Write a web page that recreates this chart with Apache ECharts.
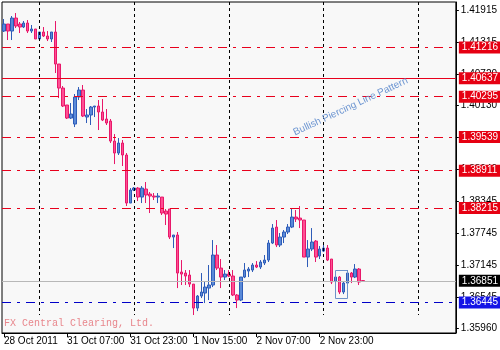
<!DOCTYPE html>
<html>
<head>
<meta charset="utf-8">
<script src="https://cdn.jsdelivr.net/npm/echarts@6/dist/echarts.min.js"></script>
<style>
html,body{margin:0;padding:0;background:#fff;}
#c{width:500px;height:350px;}
</style>
</head>
<body>
<div id="c"></div>
<script>
// ---- data ----
const opens = [1.41522,1.41653,1.41522,1.41765,1.41653,1.41597,1.41672,1.41522,1.41560,1.41373,
1.41504,1.41429,1.41373,1.41504,1.40905,1.40456,1.40139,1.39895,1.39783,1.40288,
1.40419,1.39914,1.39952,1.40101,1.40120,1.40008,1.39877,1.39839,1.39465,1.39241,
1.39428,1.39204,1.38306,1.38549,1.38586,1.38418,1.38568,1.38474,1.38437,1.38418,
1.38418,1.38156,1.38194,1.37670,1.37708,1.37016,1.36997,1.36960,1.36791,1.36342,
1.36567,1.36623,1.36716,1.36773,1.37334,1.37090,1.36922,1.36978,1.36941,1.36586,
1.36492,1.36922,1.37034,1.37053,1.37147,1.37109,1.37184,1.37240,1.37558,1.37857,
1.37521,1.37670,1.37764,1.37857,1.38044,1.38025,1.37988,1.37296,1.37446,1.37595,
1.37315,1.37408,1.37464,1.37259,1.36847,1.36922,1.36642,1.36810,1.36997,1.36922,
1.37072,1.36856];
const closes = [1.41653,1.41522,1.41765,1.41616,1.41597,1.41672,1.41522,1.41560,1.41373,1.41504,
1.41429,1.41373,1.41504,1.40905,1.40456,1.40120,1.39895,1.39970,1.40288,1.40419,
1.39933,1.39952,1.40101,1.40120,1.40008,1.39858,1.39802,1.39465,1.39241,1.39428,
1.39204,1.38306,1.38549,1.38586,1.38418,1.38586,1.38456,1.38437,1.38418,1.38437,
1.38119,1.38100,1.37670,1.37708,1.36997,1.36978,1.36941,1.36791,1.36342,1.36567,
1.36642,1.36735,1.36773,1.37334,1.37090,1.36922,1.36978,1.36941,1.36586,1.36492,
1.36922,1.37053,1.37072,1.37147,1.37109,1.37203,1.37240,1.37558,1.37838,1.37521,
1.37670,1.37764,1.37857,1.38044,1.38007,1.37988,1.37296,1.37446,1.37577,1.37296,
1.37446,1.37464,1.37240,1.36829,1.36922,1.36642,1.36810,1.36997,1.36922,1.37072,
1.36829,1.36851];
const lows = [1.41504,1.41354,1.41354,1.41578,1.41485,1.41578,1.41485,1.41485,1.41373,1.41354,
1.41410,1.41335,1.41317,1.40737,1.40269,1.40101,1.39877,1.39877,1.39727,1.40232,
1.39914,1.39802,1.39765,1.39914,1.39671,1.39839,1.39765,1.39428,1.39035,1.39204,
1.38998,1.38250,1.38306,1.38530,1.38343,1.38306,1.38306,1.38119,1.38362,1.38306,
1.38082,1.37895,1.37633,1.37464,1.36716,1.36773,1.36773,1.36735,1.36212,1.36286,
1.36529,1.36436,1.36492,1.36735,1.37053,1.36716,1.36866,1.36922,1.36567,1.36342,
1.36473,1.36903,1.36922,1.37016,1.37090,1.37072,1.37147,1.37203,1.37539,1.37483,
1.37483,1.37558,1.37726,1.37838,1.37951,1.37838,1.37296,1.37109,1.37408,1.37203,
1.37259,1.37390,1.37221,1.36791,1.36810,1.36604,1.36604,1.36791,1.36810,1.36903,
1.36773,1.36840];
const highs = [1.41747,1.41653,1.41803,1.41859,1.41691,1.41709,1.41728,1.41635,1.41560,1.41504,
1.41597,1.41522,1.41504,1.41709,1.40905,1.40494,1.40139,1.40176,1.40344,1.40475,
1.40513,1.40064,1.40120,1.40120,1.40232,1.40251,1.40064,1.39877,1.39596,1.39521,
1.39484,1.39241,1.38586,1.38605,1.38605,1.38624,1.38699,1.38512,1.38493,1.38493,
1.38418,1.38194,1.38194,1.37708,1.37764,1.37240,1.37053,1.37053,1.36791,1.36586,
1.36997,1.36829,1.37147,1.37614,1.37521,1.37259,1.37053,1.37053,1.37053,1.36604,
1.36922,1.37184,1.37109,1.37184,1.37221,1.37240,1.37334,1.37614,1.37913,1.37988,
1.37745,1.37801,1.37913,1.38212,1.38175,1.38250,1.37988,1.37614,1.37838,1.37614,
1.37502,1.37521,1.37521,1.37259,1.36941,1.36941,1.36847,1.37053,1.37016,1.37165,
1.37090,1.36862];

// hourly bars: [day label, first hour, last hour]
const sessions = [['28 Oct',15,23],['31 Oct',0,23],['1 Nov',0,23],['2 Nov',0,23],['3 Nov',0,23],['4 Nov',0,9]];
const firstLabel = '28 Oct 2011';
const xLabelEvery = 16;
const xLabelLast = 80;
const daySeparators = ['31 Oct 00:00','1 Nov 00:00','2 Nov 00:00','3 Nov 00:00','4 Nov 00:00'];

const yTickLabels = ['1.41915','1.41315','1.40720','1.40130','1.39530','1.38940','1.38345','1.37745','1.37145','1.36545','1.35960'];
const yMin = 1.35876, yMax = 1.42065;

const redDashLevels = [1.41216, 1.40295, 1.39539, 1.38911, 1.38215];
const redSolidLevel = 1.40637;
const bidLevel = 1.36851;
const blueLevel = 1.36445;
const separatorBottom = 1.36212;

const patternBox = {from: 84, to: 87, top: 1.37053, bottom: 1.36529};
const patternText = 'Bullish Piercing Line Pattern';
const patternTextAnchor = {bar: 74, price: 1.39530};
const watermark = 'FX Central Clearing, Ltd.';

// ---- build ----
const categories = [];
sessions.forEach(([d, h0, h1]) => {
  for (let h = h0; h <= h1; h++) categories.push(d + ' ' + (h < 10 ? '0' + h : h) + ':00');
});
const ohlc = opens.map((o, i) => [o, closes[i], lows[i], highs[i]]);

const FONT = 'Liberation Sans, Arial, sans-serif';
const RED = '#e8001c';
const dashDot = [9, 6, 3, 6];

function level(v, lineColor, type, bg) {
  return {yAxis: v, name: v.toFixed(5),
    lineStyle: {color: lineColor, type: type, width: 1},
    label: {backgroundColor: bg, color: '#fff'}};
}
const priceLines = [];
redDashLevels.forEach(v => priceLines.push(level(v, RED, dashDot, '#e60012')));
priceLines.push(level(redSolidLevel, RED, 'solid', '#e60012'));
priceLines.push(level(bidLevel, '#b8b8b8', 'solid', '#000000'));
priceLines.push(level(blueLevel, '#0000c8', dashDot, '#1414e6'));

const sepStyle = {color: '#000', type: [3, 3], width: 1};
const sepLines = daySeparators.map(c => [{coord: [c, yMax], lineStyle: sepStyle}, {coord: [c, separatorBottom]}]);

const chart = echarts.init(document.getElementById('c'), null, {renderer: 'canvas'});
chart.setOption({
  animation: false,
  backgroundColor: '#ffffff',
  grid: {left: 2, right: 40, top: 2, bottom: 17, show: true, borderColor: '#000', borderWidth: 1, backgroundColor: '#f8f8f8'},
  xAxis: {
    type: 'category', data: categories, boundaryGap: true,
    axisLine: {lineStyle: {color: '#000', width: 1}},
    axisTick: {show: true, alignWithLabel: true, length: 4, lineStyle: {color: '#000'},
      interval: (i) => i % xLabelEvery === 0 && i <= xLabelLast},
    axisLabel: {interval: (i) => i % xLabelEvery === 0 && i <= xLabelLast,
      formatter: (v, i) => i === 0 ? firstLabel : v,
      align: 'left', margin: 3, fontSize: 10, color: '#000', fontFamily: FONT},
    splitLine: {show: false}
  },
  yAxis: {
    type: 'value', position: 'right', min: yMin, max: yMax,
    axisLine: {show: true, lineStyle: {color: '#000', width: 1}},
    axisTick: {show: true, length: 3, lineStyle: {color: '#000'}, customValues: yTickLabels.map(Number)},
    axisLabel: {customValues: yTickLabels.map(Number), formatter: v => v.toFixed(5),
      margin: 5, fontSize: 10, color: '#000', fontFamily: FONT},
    splitLine: {show: false}
  },
  series: [{
    type: 'line', data: [], silent: true, z: 1,
    markLine: {
      silent: true, symbol: 'none', animation: false, precision: 5,
      lineStyle: sepStyle,
      label: {show: false},
      data: sepLines
    }
  }, {
    type: 'line', data: [], silent: true, z: 3,
    markLine: {
      silent: true, symbol: 'none', animation: false, precision: 5,
      label: {show: true, position: 'end', formatter: '{b}', distance: 3, padding: [1, 8, 1, 3],
        fontSize: 10, fontFamily: FONT},
      data: priceLines
    }
  }, {
    type: 'candlestick',
    data: ohlc,
    barWidth: 3,
    z: 4,
    itemStyle: {color: '#5a8ad8', color0: '#ff4f93', borderColor: '#2e5cb8', borderColor0: '#e8186a', borderWidth: 1}
  }]
});

const p = chart.convertToPixel({seriesIndex: 2}, [categories[patternTextAnchor.bar], patternTextAnchor.price]);
const b0 = chart.convertToPixel({seriesIndex: 2}, [categories[patternBox.from], patternBox.top]);
const b1 = chart.convertToPixel({seriesIndex: 2}, [categories[patternBox.to], patternBox.bottom]);
chart.setOption({
  graphic: [
    {type: 'rect', silent: true, z: 100,
      shape: {x: Math.round(b0[0]) + 0.5, y: Math.round(b0[1]) + 0.5, width: Math.round(b1[0] - b0[0]), height: Math.round(b1[1] - b0[1])},
      style: {fill: 'none', stroke: '#6f93c9', lineWidth: 1}},
    {type: 'text', x: p[0], y: p[1], rotation: 25 * Math.PI / 180, silent: true, z: 100,
      style: {text: patternText, fill: '#6f97d2', font: '10px ' + FONT, textVerticalAlign: 'bottom'}},
    {type: 'text', left: 4, top: 318, silent: true, z: 100,
      style: {text: watermark, fill: '#e8868c', font: '10px "Liberation Mono", monospace'}}
  ]
});
</script>
</body>
</html>
